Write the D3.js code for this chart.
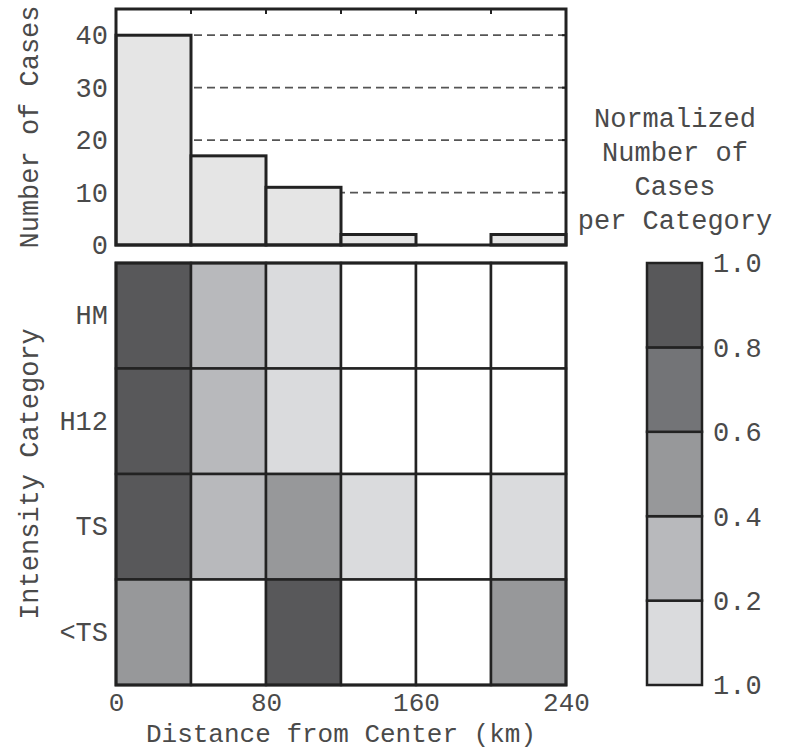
<!DOCTYPE html>
<html>
<head>
<meta charset="utf-8">
<script src="https://cdn.jsdelivr.net/npm/d3@7"></script>
<style>
  body { margin: 0; background: #fff; }
  text { font-family: "Liberation Mono", "Courier New", monospace; fill: #4a4a4a; }
</style>
</head>
<body>
<div id="chart"></div>
<script>
// histogram of cases per 40 km bin
const binEdges = [0, 40, 80, 120, 160, 200, 240];
const caseCounts = [40, 17, 11, 2, 0, 2];
const histTicks = [0, 10, 20, 30, 40];

// normalized number of cases per intensity category
const categories = ["HM", "H12", "TS", "<TS"];
const heatValues = [
    [1.0, 0.35, 0.15, 0, 0, 0],
    [1.0, 0.30, 0.15, 0, 0, 0],
    [1.0, 0.30, 0.50, 0.10, 0, 0.10],
    [0.50, 0, 1.0, 0, 0, 0.50]
];
const distTicks = [0, 80, 160, 240];

const legendEdges = [0, 0.2, 0.4, 0.6, 0.8, 1.0];
const legendLabels = ["1.0", "0.2", "0.4", "0.6", "0.8", "1.0"];
const shades = ["#ffffff", "#dadbdd", "#b8b9bc", "#97989a", "#737477", "#58585a"];

const width = 792, height = 751;
const fs = "27px";
const fsBottom = "26px";
const ink = "#222";

const svg = d3.select("#chart").append("svg")
    .attr("width", width)
    .attr("height", height);

const x = d3.scaleLinear().domain([0, 240]).range([116, 566]);
const yHist = d3.scaleLinear().domain([0, 45]).range([245, 9]);
const yCat = d3.scaleBand().domain(categories).range([263, 685]);
const color = d3.scaleThreshold().domain([1e-9, 0.2, 0.4, 0.6, 0.8]).range(shades);

// ---- histogram ----
const hist = svg.append("g");

hist.selectAll(".grid")
    .data(histTicks.filter(t => t > 0))
    .enter()
    .append("line")
    .attr("x1", x(0))
    .attr("x2", x(240))
    .attr("y1", d => yHist(d))
    .attr("y2", d => yHist(d))
    .style("stroke", "#555")
    .style("stroke-width", 1.8)
    .style("stroke-dasharray", "8,5");

hist.selectAll(".bar")
    .data(caseCounts)
    .enter()
    .append("rect")
    .attr("x", (d, i) => x(binEdges[i]))
    .attr("y", d => yHist(d))
    .attr("width", (d, i) => x(binEdges[i + 1]) - x(binEdges[i]))
    .attr("height", d => yHist(0) - yHist(d))
    .style("fill", "#e5e5e5")
    .style("stroke", ink)
    .style("stroke-width", 3);

// top ticks at bin edges, right ticks at count levels
hist.selectAll(".ttick")
    .data(binEdges.slice(1, -1))
    .enter()
    .append("line")
    .attr("x1", d => x(d))
    .attr("x2", d => x(d))
    .attr("y1", yHist(45))
    .attr("y2", yHist(45) + 5)
    .style("stroke", ink)
    .style("stroke-width", 2);

hist.selectAll(".rtick")
    .data(histTicks.filter(t => t > 0))
    .enter()
    .append("line")
    .attr("x1", x(240))
    .attr("x2", x(240) - 4)
    .attr("y1", d => yHist(d))
    .attr("y2", d => yHist(d))
    .style("stroke", ink)
    .style("stroke-width", 2);

hist.append("rect")
    .attr("x", x(0))
    .attr("y", yHist(45))
    .attr("width", x(240) - x(0))
    .attr("height", yHist(0) - yHist(45))
    .style("fill", "none")
    .style("stroke", ink)
    .style("stroke-width", 3);

const yAxisHist = hist.append("g")
    .attr("transform", `translate(${x(0) - 8},0)`)
    .call(d3.axisLeft(yHist).tickValues(histTicks).tickSize(0).tickPadding(0));
yAxisHist.select(".domain").remove();
yAxisHist.selectAll("text").style("font-size", fs).style("font-family", null).attr("fill", null);

hist.append("text")
    .attr("transform", "rotate(-90)")
    .attr("x", -(yHist(0) + yHist(45)) / 2)
    .attr("y", 38)
    .attr("text-anchor", "middle")
    .style("font-size", fs)
    .text("Number of Cases");

// ---- heatmap ----
const heat = svg.append("g");

heatValues.forEach((row, r) => {
    heat.selectAll(".cell-" + r)
        .data(row)
        .enter()
        .append("rect")
        .attr("x", (d, i) => x(binEdges[i]))
        .attr("y", yCat(categories[r]))
        .attr("width", (d, i) => x(binEdges[i + 1]) - x(binEdges[i]))
        .attr("height", yCat.bandwidth())
        .style("fill", d => color(d))
        .style("stroke", ink)
        .style("stroke-width", 2.5);
});

heat.append("rect")
    .attr("x", x(0))
    .attr("y", yCat.range()[0])
    .attr("width", x(240) - x(0))
    .attr("height", yCat.range()[1] - yCat.range()[0])
    .style("fill", "none")
    .style("stroke", ink)
    .style("stroke-width", 3);

const yAxisCat = heat.append("g")
    .attr("transform", `translate(${x(0) - 8},0)`)
    .call(d3.axisLeft(yCat).tickSize(0).tickPadding(0));
yAxisCat.select(".domain").remove();
yAxisCat.selectAll("text").style("font-size", fs).style("font-family", null).attr("fill", null);

const xAxis = heat.append("g")
    .attr("transform", `translate(0,${yCat.range()[1] + 8})`)
    .call(d3.axisBottom(x).tickValues(distTicks).tickSize(0).tickPadding(0).tickFormat(d3.format("d")));
xAxis.select(".domain").remove();
xAxis.selectAll("text").style("font-size", fsBottom).style("font-family", null).attr("fill", null);

heat.append("text")
    .attr("x", (x(0) + x(240)) / 2)
    .attr("y", 742)
    .attr("text-anchor", "middle")
    .style("font-size", fsBottom)
    .text("Distance from Center (km)");

heat.append("text")
    .attr("transform", "rotate(-90)")
    .attr("x", -(yCat.range()[0] + yCat.range()[1]) / 2)
    .attr("y", 38)
    .attr("text-anchor", "middle")
    .style("font-size", fs)
    .text("Intensity Category");

// ---- legend ----
const yLeg = d3.scaleLinear().domain([0, 1]).range([685, 263]);
const legend = svg.append("g");

legend.selectAll(".swatch")
    .data(legendEdges.slice(0, -1))
    .enter()
    .append("rect")
    .attr("x", 647)
    .attr("y", (d, i) => yLeg(legendEdges[i + 1]))
    .attr("width", 55)
    .attr("height", (d, i) => yLeg(d) - yLeg(legendEdges[i + 1]))
    .style("fill", (d, i) => shades[i + 1])
    .style("stroke", ink)
    .style("stroke-width", 2.5);

legend.selectAll(".leg-label")
    .data(legendEdges)
    .enter()
    .append("text")
    .attr("x", 713)
    .attr("y", d => yLeg(d))
    .attr("dy", "0.35em")
    .style("font-size", fs)
    .text((d, i) => legendLabels[i]);

const titleLines = ["Normalized", "Number of", "Cases", "per Category"];
legend.selectAll(".title")
    .data(titleLines)
    .enter()
    .append("text")
    .attr("x", 675)
    .attr("y", (d, i) => 118 + i * 33.8)
    .attr("dy", "0.35em")
    .attr("text-anchor", "middle")
    .style("font-size", fs)
    .text(d => d);
</script>
</body>
</html>
